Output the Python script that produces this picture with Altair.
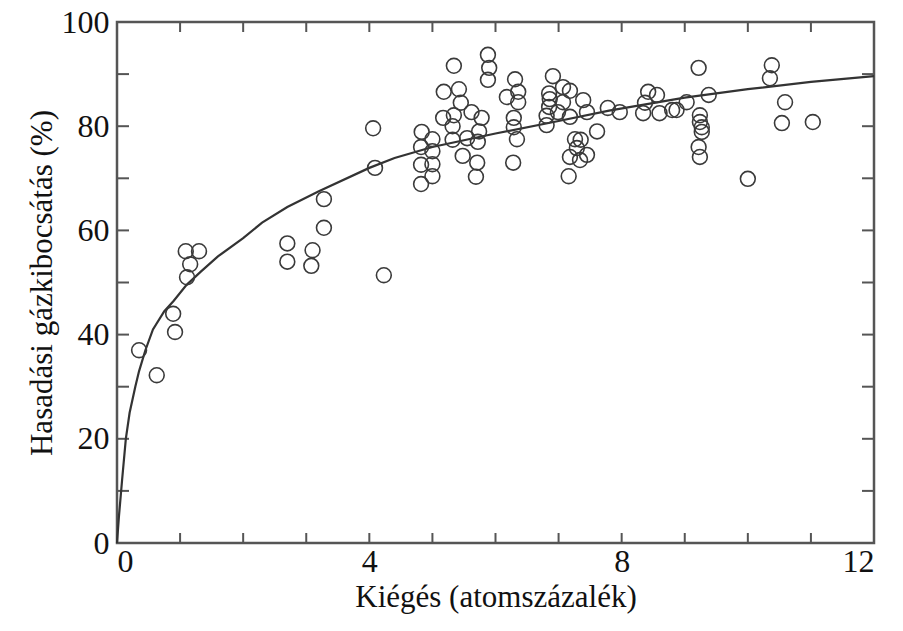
import altair as alt
import pandas as pd

# Measured data points (burnup in at.%, fission gas release in %)
px = [0.35, 0.63, 0.89, 0.92, 1.09, 1.16, 1.11, 1.30,
      2.70, 2.70, 3.10, 3.08, 3.28, 3.28, 4.06, 4.09, 4.23,
      4.83, 5.00, 4.82, 5.00, 4.82, 5.00, 5.00, 4.82,
      5.18, 5.34, 5.42, 5.45, 5.17, 5.34, 5.32, 5.62, 5.78, 5.74, 5.32, 5.55, 5.72, 5.48, 5.71, 5.69,
      5.88, 5.90, 5.88,
      6.18, 6.31, 6.36, 6.36, 6.29, 6.29, 6.34, 6.28,
      6.91, 6.85, 6.86, 7.07, 7.18, 7.07, 6.85, 6.81, 6.81, 6.99, 7.18, 7.39, 7.45, 7.61,
      7.26, 7.35, 7.29, 7.45, 7.18, 7.34, 7.16,
      7.78, 7.97, 8.42, 8.56, 8.37, 8.34, 8.60, 8.80, 8.87, 9.03,
      9.22, 9.24, 9.24, 9.27, 9.27, 9.22, 9.24, 9.38,
      10.38, 10.35, 10.59, 10.54, 11.03, 10.00]
py = [37.0, 32.2, 44.0, 40.5, 56.0, 53.5, 51.0, 56.0,
      57.5, 54.0, 56.2, 53.2, 60.5, 66.0, 79.6, 72.0, 51.4,
      78.9, 77.5, 76.0, 75.2, 72.6, 72.7, 70.4, 68.9,
      86.6, 91.6, 87.1, 84.5, 81.6, 82.1, 80.0, 82.7, 81.6, 79.0, 77.4, 77.7, 77.0, 74.3, 73.0, 70.3,
      93.7, 91.2, 88.9,
      85.6, 89.0, 86.6, 84.6, 81.6, 79.8, 77.5, 73.0,
      89.6, 86.3, 85.2, 87.5, 86.8, 84.6, 83.7, 82.0, 80.2, 82.7, 81.8, 85.0, 82.7, 79.0,
      77.5, 77.4, 75.8, 74.5, 74.1, 73.5, 70.4,
      83.5, 82.7, 86.6, 86.0, 84.5, 82.5, 82.5, 83.1, 83.1, 84.6,
      91.2, 82.1, 80.8, 79.8, 78.9, 76.0, 74.1, 86.0,
      91.7, 89.2, 84.6, 80.6, 80.8, 69.9]

# Fitted curve
cx = [0, 0.03, 0.08, 0.14, 0.20, 0.29, 0.35, 0.45, 0.57, 0.75, 0.90, 1.10, 1.32, 1.60,
      2.0, 2.3, 2.7, 3.2, 4.0, 4.4, 5.0, 6.0, 7.0, 7.8, 9.0, 10.0, 11.0, 12.0]
cy = [0, 5, 12, 20, 25, 30, 33, 37, 41, 44.5, 46.5, 49.5, 52, 55,
      58.5, 61.5, 64.5, 67.5, 72, 73.9, 76, 78.6, 81, 83, 85.5, 87.1, 88.5, 89.6]

x_minor = [1, 2, 3, 4, 5, 6, 7, 8, 9, 10, 11]
y_minor = [10, 20, 30, 40, 50, 60, 70, 80, 90]
x_labels = [0, 4, 8, 12]
y_labels = [0, 20, 40, 60, 80, 100]

W, H = 757, 521
FONT = "Times New Roman, Liberation Serif, DejaVu Serif, serif"

pts = pd.DataFrame({"x": px, "y": py})
curve = pd.DataFrame({"x": cx, "y": cy})
xt = pd.DataFrame({"x": x_minor})
yt = pd.DataFrame({"y": y_minor})

xs = alt.Scale(domain=[0, 12], nice=False, zero=False)
ys = alt.Scale(domain=[0, 100], nice=False, zero=False)

x_axis = alt.Axis(values=x_labels, title="Kiégés (atomszázalék)", tickSize=0, domain=False,
                  grid=False, labelPadding=3, titlePadding=5)
y_axis = alt.Axis(values=y_labels, title="Hasadási gázkibocsátás (%)", tickSize=0, domain=False,
                  grid=False, labelPadding=8, titlePadding=3)

X = alt.X("x:Q", scale=xs, axis=x_axis)
Y = alt.Y("y:Q", scale=ys, axis=y_axis)

points = alt.Chart(pts).mark_point(shape="circle", filled=False, size=220,
                                   stroke="#3a3a3a", strokeWidth=1.6, opacity=1).encode(x=X, y=Y)
line = alt.Chart(curve).mark_line(color="#333333", strokeWidth=2.2).encode(x=X, y=Y)

tick_style = dict(color="#555555", strokeWidth=2)
xb = alt.Chart(xt).mark_rule(**tick_style).encode(x=X, y=alt.value(H), y2=alt.value(H - 10))
xtp = alt.Chart(xt).mark_rule(**tick_style).encode(x=X, y=alt.value(0), y2=alt.value(10))
yl = alt.Chart(yt).mark_rule(**tick_style).encode(y=Y, x=alt.value(0), x2=alt.value(12))
yr = alt.Chart(yt).mark_rule(**tick_style).encode(y=Y, x=alt.value(W - 12), x2=alt.value(W))

chart = alt.layer(xb, xtp, yl, yr, line, points).properties(
    width=W, height=H,
    autosize=alt.AutoSizeParams(type="none"),
    padding={"left": 109, "top": 14, "right": 20, "bottom": 80},
    background="white",
).configure(
    font=FONT
).configure_view(
    stroke="#555555", strokeWidth=2.5
).configure_axis(
    labelFont=FONT, titleFont=FONT, labelFontSize=32, titleFontSize=31,
    labelColor="#111111", titleColor="#111111", titleFontWeight="normal"
)

chart.save("out.html", embed_options={"renderer": "svg", "actions": False})
